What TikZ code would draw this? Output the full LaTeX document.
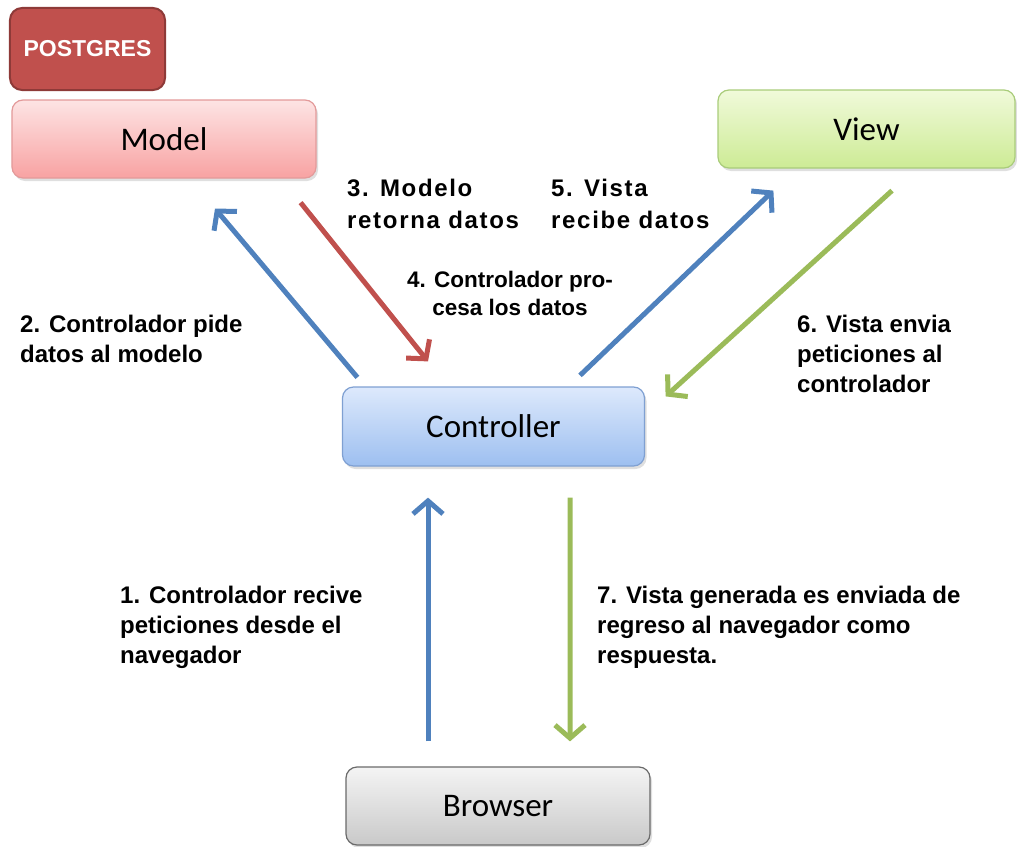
\documentclass[tikz,border=0pt]{standalone}
\usepackage{fontspec}
\setmainfont{Liberation Sans}
\newfontfamily\boxfont{Carlito}
\usetikzlibrary{arrows.meta,calc,shadows}

\definecolor{pgfill}{HTML}{C0504D}
\definecolor{pgline}{HTML}{8E3A38}
\definecolor{arrblue}{HTML}{4F81BD}
\definecolor{arrred}{HTML}{C0504D}
\definecolor{arrgreen}{HTML}{9BBB59}
\definecolor{mtop}{HTML}{FDE4E4}
\definecolor{mbot}{HTML}{F8A2A2}
\definecolor{mline}{HTML}{E39A9A}
\definecolor{vtop}{HTML}{F0FADA}
\definecolor{vbot}{HTML}{CDEB95}
\definecolor{vline}{HTML}{A9CC7A}
\definecolor{ctop}{HTML}{DDE9FC}
\definecolor{cbot}{HTML}{9DBFF0}
\definecolor{cline}{HTML}{7FA0D2}
\definecolor{btop}{HTML}{F4F4F4}
\definecolor{bbot}{HTML}{C9C9C9}
\definecolor{bline}{HTML}{6A6A6A}

\tikzset{
  mvcbox/.style={rounded corners=11bp, line width=1.2bp, minimum height=78bp,
    inner sep=0pt, font=\boxfont\fontsize{33bp}{36bp}\selectfont,
    drop shadow={opacity=0.25, shadow xshift=2bp, shadow yshift=-3bp}},
  modelbox/.style={mvcbox, draw=mline, top color=mtop, bottom color=mbot},
  viewbox/.style={mvcbox, draw=vline, top color=vtop, bottom color=vbot},
  ctrlbox/.style={mvcbox, draw=cline, top color=ctop, bottom color=cbot},
  browserbox/.style={mvcbox, draw=bline, top color=btop, bottom color=bbot},
  flow/.style={line width=5bp, -{Straight Barb[length=13bp,width=30bp]}},
  lbl/.style={anchor=base west, inner sep=0pt, align=left,
    font=\bfseries\fontsize{24bp}{30bp}\selectfont},
  widelbl/.style={lbl, font=\bfseries\fontsize{24bp}{32bp}\selectfont\addfontfeature{LetterSpace=7}},
}

\begin{document}
\begin{tikzpicture}[x=1bp,y=-1bp]
\useasboundingbox (0,0) rectangle (1017,847);

% the five boxes
\node[draw=pgline, fill=pgfill, line width=2bp, rounded corners=12bp,
      minimum width=155bp, minimum height=82bp, text=white,
      font=\bfseries\fontsize{23bp}{26bp}\selectfont] (pg) at (87.5,49) {POSTGRES};
\node[modelbox, minimum width=304bp] (model) at (164,139) {Model};
\node[viewbox, minimum width=297bp] (view) at (866.5,129) {View};
\node[ctrlbox, minimum width=302bp, minimum height=79bp] (ctrl) at (493.5,426.5) {Controller};
\node[browserbox, minimum width=304bp] (browser) at (498,806) {Browser};

% arrow end points, placed against the boxes
\coordinate (a2s) at ($(ctrl.north west)+(15.5,-9)$);
\coordinate (a2e) at ($(model.south)+(51,30)$);
\coordinate (a3s) at ($(model.south east)+(-16,24)$);
\coordinate (a3e) at ($(ctrl.north)+(-65.5,-25)$);
\coordinate (a5s) at ($(ctrl.north)+(86.5,-11)$);
\coordinate (a5e) at ($(view.south west)+(56,22)$);
\coordinate (a6s) at ($(view.south)+(25.5,22)$);
\coordinate (a6e) at ($(ctrl.north east)+(20.5,10)$);
\coordinate (a1s) at ($(browser.north)+(-70,-25)$);
\coordinate (a1e) at ($(ctrl.south)+(-65.5,31)$);
\coordinate (a7s) at ($(ctrl.south)+(76.5,31)$);
\coordinate (a7e) at ($(browser.north)+(72,-25)$);

\draw[flow, arrblue] (a2s) -- (a2e);
\draw[flow, arrred] (a3s) -- (a3e);
\draw[flow, arrblue] (a5s) -- (a5e);
\draw[flow, arrgreen] (a6s) -- (a6e);
\draw[flow, arrblue] (a1s) -- (a1e);
\draw[flow, arrgreen] (a7s) -- (a7e);

% step labels (anchored at the baseline of their last line)
\node[lbl] (l2) at (20,362) {2. Controlador pide\\datos al modelo};
\node[widelbl] (l3) at (347,228) {3. Modelo\\retorna datos};
\node[widelbl] (l5) at (551,228) {5. Vista\\recibe datos};
\node[anchor=base, inner sep=0pt, align=center,
      font=\bfseries\fontsize{22.5bp}{28bp}\selectfont] (l4) at (510,315) {4. Controlador pro-\\cesa los datos};
\node[lbl] (l6) at (797,392) {6. Vista envia\\peticiones al\\controlador};
\node[lbl] (l1) at (120,663) {1. Controlador recive\\peticiones desde el\\navegador};
\node[lbl] (l7) at (597,663) {7. Vista generada es enviada de\\regreso al navegador como\\respuesta.};
\end{tikzpicture}
\end{document}
